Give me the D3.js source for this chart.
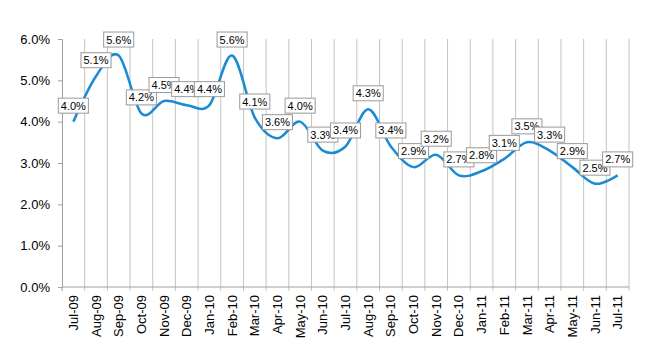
<!DOCTYPE html>
<html>
<head>
<meta charset="utf-8">
<script src="https://cdn.jsdelivr.net/npm/d3@7"></script>
<style>
  body { margin: 0; background: #fff; }
  text { font-family: "Liberation Sans", Arial, sans-serif; }
</style>
</head>
<body>
<div id="chart"></div>
<script>
const months = ['Jul-09', 'Aug-09', 'Sep-09', 'Oct-09', 'Nov-09', 'Dec-09', 'Jan-10', 'Feb-10',
    'Mar-10', 'Apr-10', 'May-10', 'Jun-10', 'Jul-10', 'Aug-10', 'Sep-10', 'Oct-10', 'Nov-10',
    'Dec-10', 'Jan-11', 'Feb-11', 'Mar-11', 'Apr-11', 'May-11', 'Jun-11', 'Jul-11'];
const rates = [4.0, 5.1, 5.6, 4.2, 4.5, 4.4, 4.4, 5.6, 4.1, 3.6, 4.0, 3.3, 3.4, 4.3, 3.4, 2.9,
    3.2, 2.7, 2.8, 3.1, 3.5, 3.3, 2.9, 2.5, 2.7];
const yTicks = [0, 1, 2, 3, 4, 5, 6];

const width = 650, height = 350;
const margin = { top: 39, right: 21, bottom: 63, left: 62 };

const svg = d3.select('#chart').append('svg')
    .attr('width', width)
    .attr('height', height);

const x = d3.scaleBand()
    .domain(months)
    .range([margin.left, width - margin.right]);

const y = d3.scaleLinear()
    .domain([0, 6])
    .range([height - margin.bottom, margin.top]);

const data = months.map((m, i) => ({ month: m, value: rates[i] }));
const cx = d => x(d.month) + x.bandwidth() / 2;

// vertical gridlines at category boundaries
svg.append('g')
    .selectAll('line')
    .data(months)
    .enter()
    .append('line')
    .attr('x1', d => x(d) + x.bandwidth())
    .attr('x2', d => x(d) + x.bandwidth())
    .attr('y1', y(6))
    .attr('y2', y(0) + 4)
    .attr('stroke', '#c4c4c4')
    .attr('stroke-width', 1);

// y axis
const yAxis = svg.append('g')
    .attr('transform', `translate(${margin.left}, 0)`)
    .call(d3.axisLeft(y).tickValues(yTicks).tickSize(4).tickPadding(8)
        .tickFormat(d => d.toFixed(1) + '%'));
yAxis.select('.domain').attr('stroke', '#a0a0a0');
yAxis.selectAll('.tick line').attr('stroke', '#a0a0a0');
yAxis.selectAll('.tick text')
    .attr('fill', '#000')
    .style('font-size', '13px')
    .style('font-family', '"Liberation Sans", Arial, sans-serif');

// x axis line + ticks at boundaries
svg.append('line')
    .attr('x1', margin.left)
    .attr('x2', width - margin.right)
    .attr('y1', y(0))
    .attr('y2', y(0))
    .attr('stroke', '#a0a0a0');

svg.append('line')
    .attr('x1', margin.left)
    .attr('x2', margin.left)
    .attr('y1', y(0))
    .attr('y2', y(0) + 4)
    .attr('stroke', '#a0a0a0');

// x labels
svg.append('g')
    .selectAll('text')
    .data(data)
    .enter()
    .append('text')
    .attr('transform', d => `translate(${cx(d)}, ${y(0) + 8}) rotate(-90)`)
    .attr('text-anchor', 'end')
    .attr('dy', '0.35em')
    .style('font-size', '13px')
    .attr('fill', '#000')
    .text(d => d.month);

// smoothed line
const line = d3.line()
    .x(cx)
    .y(d => y(d.value))
    .curve(d3.curveCatmullRom.alpha(0));

svg.append('path')
    .datum(data)
    .attr('d', line)
    .attr('fill', 'none')
    .attr('stroke', '#1a8ad4')
    .attr('stroke-width', 2.5);

// data labels in boxes
const labels = svg.append('g');
data.forEach(d => {
    const g = labels.append('g')
        .attr('transform', `translate(${cx(d)}, ${y(d.value) - 16})`);
    const rect = g.append('rect');
    const t = g.append('text')
        .attr('text-anchor', 'middle')
        .attr('dy', '0.36em')
        .style('font-size', '11px')
        .attr('fill', '#000')
        .text(d.value.toFixed(1) + '%');
    const w = t.node().getComputedTextLength() + 5;
    rect.attr('x', -w / 2)
        .attr('y', -7.5)
        .attr('width', w)
        .attr('height', 15)
        .attr('fill', '#fff')
        .attr('stroke', '#9a9a9a')
        .attr('stroke-width', 1);
});
</script>
</body>
</html>
